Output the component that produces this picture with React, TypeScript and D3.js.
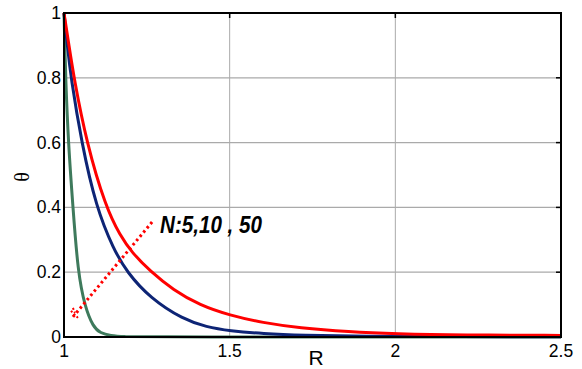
import * as d3 from "d3";

// R values and theta readings for each N
const red5: [number, number][] = [
  [1.0, 1.0], [1.015, 0.9], [1.03, 0.8], [1.068, 0.6], [1.126, 0.4], [1.17, 0.312],
  [1.204, 0.262], [1.26, 0.203], [1.33, 0.145], [1.41, 0.098], [1.5, 0.067], [1.6, 0.044],
  [1.71, 0.028], [1.86, 0.016], [2.0, 0.01], [2.2, 0.006], [2.5, 0.005], [2.5, 0.005],
];
const blue10: [number, number][] = [
  [1.0, 1.0], [1.01, 0.9], [1.021, 0.8], [1.053, 0.6], [1.097, 0.4], [1.15, 0.27],
  [1.19, 0.2], [1.26, 0.12], [1.36, 0.054], [1.43, 0.031], [1.5, 0.019], [1.6, 0.01],
  [1.72, 0.005], [1.9, 0.002], [2.2, 0.001], [2.5, 0.001], [2.5, 0.001],
];
const green50: [number, number][] = [
  [1.0, 1.0], [1.0025, 0.9], [1.005, 0.8], [1.013, 0.6], [1.027, 0.4], [1.042, 0.2],
  [1.063, 0.093], [1.088, 0.031], [1.11, 0.012], [1.14, 0.004], [1.18, 0.001],
  [1.25, 0.0], [2.5, 0.0], [2.5, 0.0],
];
const arrowLine: [number, number][] = [[1.027, 0.062], [1.266, 0.355]];

const xTicks = [1, 1.5, 2, 2.5];
const yTicks = [0, 0.2, 0.4, 0.6, 0.8, 1];
const labelText = "N:5,10 , 50";

const W = 582;
const H = 369;
const m = { left: 64, top: 13, right: 21, bottom: 32 };
const font = "'Liberation Sans', Arial, sans-serif";

export default function App() {
  const x = d3.scaleLinear().domain([1, 2.5]).range([m.left, W - m.right]);
  const y = d3.scaleLinear().domain([0, 1]).range([H - m.bottom, m.top]);
  const line = d3
    .line<[number, number]>()
    .x((d) => x(d[0]))
    .y((d) => y(d[1]))
    .curve(d3.curveBasis);
  const straight = d3
    .line<[number, number]>()
    .x((d) => x(d[0]))
    .y((d) => y(d[1]));

  const series = [
    { data: green50, color: "#3e7a5c" },
    { data: blue10, color: "#0d2475" },
    { data: red5, color: "#ff0000" },
  ];

  const ax = x(arrowLine[0][0]);
  const ay = y(arrowLine[0][1]);

  return (
    <svg
      width={W}
      height={H}
      style={{ position: "absolute", left: 0, top: 0, background: "#fff" }}
    >
      {/* grid */}
      {xTicks.slice(1, -1).map((t) => (
        <line key={"gx" + t} x1={x(t)} x2={x(t)} y1={y(1)} y2={y(0)} stroke="#aaa" strokeWidth={1} />
      ))}
      {yTicks.slice(1, -1).map((t) => (
        <line key={"gy" + t} x1={x(1)} x2={x(2.5)} y1={y(t)} y2={y(t)} stroke="#aaa" strokeWidth={1.2} />
      ))}

      {/* curves */}
      {series.map((s, i) => (
        <path key={i} d={line(s.data) || ""} fill="none" stroke={s.color} strokeWidth={3} />
      ))}

      {/* dotted arrow */}
      <path
        d={straight(arrowLine) || ""}
        fill="none"
        stroke="#ff0000"
        strokeWidth={3}
        strokeDasharray="2.5 3"
      />
      <path
        d={`M${ax - 2},${ay - 6} L${ax + 5},${ay + 1} M${ax},${ay - 9} L${ax + 2},${ay - 4}`}
        stroke="#ff0000"
        strokeWidth={2}
        strokeDasharray="2 2"
      />

      {/* frame */}
      <rect
        x={x(1)}
        y={y(1)}
        width={x(2.5) - x(1)}
        height={y(0) - y(1)}
        fill="none"
        stroke="#000"
        strokeWidth={2}
      />
      {/* inner ticks on right and top */}
      {yTicks.map((t) => (
        <line key={"ty" + t} x1={x(2.5) - 5} x2={x(2.5)} y1={y(t)} y2={y(t)} stroke="#000" strokeWidth={1.5} />
      ))}
      {xTicks.map((t) => (
        <line key={"tx" + t} x1={x(t)} x2={x(t)} y1={y(1)} y2={y(1) + 5} stroke="#000" strokeWidth={1.5} />
      ))}

      {/* tick labels */}
      {xTicks.map((t) => (
        <text
          key={"lx" + t}
          x={x(t)}
          y={y(0) + 20}
          textAnchor="middle"
          fontFamily={font}
          fontSize={17.5}
          fill="#000"
        >
          {d3.format("~g")(t)}
        </text>
      ))}
      {yTicks.map((t) => (
        <text
          key={"ly" + t}
          x={x(1) - 3}
          y={y(t) + 6}
          textAnchor="end"
          fontFamily={font}
          fontSize={17.5}
          fill="#000"
        >
          {d3.format("~g")(t)}
        </text>
      ))}

      {/* axis labels */}
      <text x={316} y={365} textAnchor="middle" fontFamily={font} fontSize={21} fill="#000">
        R
      </text>
      <text
        transform="translate(22,177) rotate(-90)"
        textAnchor="middle"
        dominantBaseline="central"
        fontFamily="'Liberation Serif', serif"
        fontSize={20}
        fill="#000"
      >
        θ
      </text>

      {/* annotation */}
      <text
        x={160}
        y={233}
        fontFamily={font}
        fontSize={24}
        fontWeight="bold"
        fontStyle="italic"
        textLength={102}
        lengthAdjust="spacingAndGlyphs"
        fill="#000"
      >
        {labelText}
      </text>
    </svg>
  );
}
